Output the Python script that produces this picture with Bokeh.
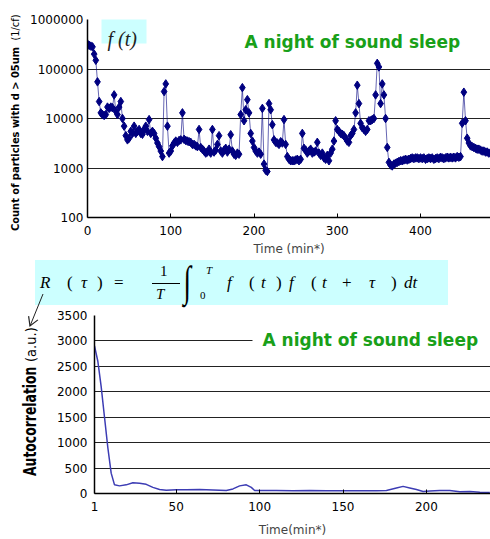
import math
from bokeh.plotting import figure
from bokeh.models import (Range1d, FixedTicker, PrintfTickFormatter, Label,
                          BoxAnnotation, Div)
from bokeh.embed import file_html
from bokeh.resources import INLINE

# ---------------- data ----------------
time_min = list(range(0, 486, 2))
particles = [
    320000, 300000, 290000, 280000, 200000, 150000, 55000, 22000, 13000, 12000,
    11500, 12000, 17000, 16000, 17000, 16500, 30000, 14000, 12000, 17000,
    22000, 10000, 7000, 4500, 3700, 4000, 5500, 5000, 7000, 5000,
    5500, 6000, 5000, 4800, 6000, 7000, 5500, 9500, 5000, 5500,
    5000, 4000, 3200, 2700, 2200, 1700, 35000, 50000, 7000, 2000,
    2200, 2800, 3200, 3500, 3300, 3600, 3700, 13000, 3800, 3600,
    3500, 3400, 3300, 3000, 3000, 2800, 2700, 6000, 2600, 2400,
    2200, 2000, 2100, 2400, 2000, 6000, 2100, 2300, 3000, 4500,
    2200, 2000, 2300, 2500, 2100, 2400, 4700, 2200, 1900, 1800,
    2000, 1900, 12000, 42000, 9000, 15000, 24000, 13000, 5000, 3500,
    2600, 2200, 2000, 2100, 1900, 16000, 1200, 900, 850, 20000,
    15000, 7500, 3700, 3300, 3200, 3000, 3400, 3200, 9500, 3000,
    1700, 1500, 1400, 1400, 1400, 1450, 1500, 1400, 1500, 5000,
    2500, 2300, 2000, 2200, 2400, 2000, 2100, 2200, 3300, 2000,
    1800, 2000, 1600, 1500, 1800, 1400, 2000, 2400, 3500, 9000,
    6000, 5500, 5000, 4800, 4500, 4000, 3500, 3300, 4500, 5000,
    6000, 13000, 47000, 20000, 8000, 6500, 6000, 5500, 6000, 9000,
    9000, 9500, 10000, 30000, 130000, 110000, 20000, 50000, 30000, 10000,
    2600, 1300, 1150, 1100, 1200, 1250, 1300, 1350, 1400, 1400,
    1450, 1500, 1450, 1500, 1550, 1600, 1550, 1600, 1600, 1550,
    1600, 1550, 1600, 1500, 1550, 1600, 1550, 1600, 1500, 1550,
    1600, 1550, 1650, 1600, 1550, 1600, 1650, 1600, 1650, 1600,
    1650, 1600, 1700, 1650, 1700, 8000, 34000, 9000, 4000, 3200,
    2800, 2700, 2600, 2500, 2400, 2400, 2300, 2200, 2200, 2100,
    2100, 2000, 2000,
]
top_yticks = [100, 1000, 10000, 100000, 1000000]
top_xticks = [0, 100, 200, 300, 400]

lag_min = [1, 3, 5, 7, 9, 11, 13, 16, 20, 24, 28, 32, 36, 40, 44, 50, 56, 64, 72,
           80, 84, 88, 92, 95, 97, 100, 110, 120, 130, 140, 150, 160, 170, 176,
           182, 186, 190, 194, 198, 202, 208, 214, 220, 226, 232, 238]
autocorr = [2900, 2600, 2100, 1500, 900, 400, 170, 150, 170, 210, 200, 180, 120,
            80, 65, 75, 75, 80, 70, 60, 90, 150, 170, 120, 60, 60, 60, 55, 60,
            55, 55, 55, 55, 60, 110, 140, 110, 80, 40, 50, 60, 60, 35, 40, 25, 20]
bot_yticks = [0, 500, 1000, 1500, 2000, 2500, 3000, 3500]
bot_xticks = [1, 50, 100, 150, 200]

title_text = "A night of sound sleep"
top_ylabel = ("Count of particles with d > 05um", "(1/cf)")
bot_ylabel = ("Autocorrelation", "(a.u.)")

GREEN = "#19a019"
CYAN = "#ccffff"
TICKFONT = "DejaVu Sans"
SERIF = "Liberation Serif"
NARROW = "'Liberation Sans Narrow', 'Arial Narrow', 'DejaVu Sans Condensed', sans-serif"


def style_axes(p, ystandoff):
    for ax in (p.xaxis, p.yaxis):
        ax.major_label_text_font = TICKFONT
        ax.major_label_text_font_size = "12px"
        ax.major_label_text_color = "black"
        ax.axis_line_color = "black"
        ax.axis_line_width = 1.5
        ax.minor_tick_line_color = None
        ax.major_tick_line_color = "black"
    p.yaxis.major_tick_in = 0
    p.yaxis.major_tick_out = 0
    p.yaxis.major_label_standoff = ystandoff
    p.xaxis.major_tick_in = 4
    p.xaxis.major_tick_out = 0
    p.xaxis.major_label_standoff = 8
    p.xaxis.axis_label_text_font = TICKFONT
    p.xaxis.axis_label_text_font_style = "normal"
    p.xaxis.axis_label_text_font_size = "12px"


def clabel(p, cx, cy, text, **kw):
    p.add_layout(Label(x=cx, y=cy, x_units="canvas", y_units="canvas", text=text, **kw))


def cbox(p, l, r, t, b, color, oy=0):
    p.add_layout(BoxAnnotation(left=l, right=r, top=t - oy, bottom=b - oy,
                               left_units="canvas", right_units="canvas",
                               top_units="canvas", bottom_units="canvas",
                               fill_color=color, fill_alpha=1.0, line_color=None))


# ---------------- top chart ----------------
p1 = figure(width=490, height=258, x_range=Range1d(0, 484),
            y_range=Range1d(100, 1e6), y_axis_type="log",
            output_backend="svg", toolbar_location=None,
            min_border_left=87, min_border_right=0, min_border_top=19,
            min_border_bottom=0)
p1.outline_line_color = None
p1.xgrid.grid_line_color = None
p1.ygrid.grid_line_color = "#222222"
p1.ygrid.ticker = FixedTicker(ticks=top_yticks)
p1.yaxis.ticker = FixedTicker(ticks=top_yticks)
p1.yaxis.formatter = PrintfTickFormatter(format="%d")
p1.xaxis.ticker = FixedTicker(ticks=top_xticks)
style_axes(p1, 4)
p1.xaxis.axis_label = "Time (min*)"
p1.xaxis.axis_label_standoff = 4

p1.line(time_min, particles, line_color="#000080", line_alpha=0.6, line_width=1)
p1.scatter(time_min, particles, marker="diamond", size=8.5,
           fill_color="#000080", line_color="#000080")

cbox(p1, 101, 146, 18, 43, CYAN)
clabel(p1, 107, 38, "f (t)", text_font=SERIF, text_font_style="italic",
       text_font_size="20px", text_baseline="alphabetic", text_color="#222222")
clabel(p1, 244, 41, title_text, text_font="DejaVu Sans",
       text_font_style="bold", text_font_size="17px", text_color=GREEN,
       text_baseline="middle")

# ---------------- bottom chart ----------------
OY = 258
p2 = figure(width=490, height=281, x_range=Range1d(1, 238.4),
            y_range=Range1d(0, 3500), output_backend="svg", toolbar_location=None,
            min_border_left=94, min_border_right=0, min_border_top=57,
            min_border_bottom=0)
p2.outline_line_color = None
p2.xgrid.grid_line_color = None
p2.ygrid.grid_line_color = "#222222"
p2.ygrid.ticker = FixedTicker(ticks=bot_yticks)
p2.yaxis.ticker = FixedTicker(ticks=bot_yticks)
p2.xaxis.ticker = FixedTicker(ticks=bot_xticks)
style_axes(p2, 7)
p2.xaxis.axis_label = "Time(min*)"
p2.xaxis.axis_label_standoff = 9

p2.line(lag_min, autocorr, line_color="#3c3cb4", line_width=1.5)

cbox(p2, 252, 490, 330, 349, "white", OY)
clabel(p2, 262, 339 - OY, title_text, text_font="DejaVu Sans",
       text_font_style="bold", text_font_size="17px", text_color=GREEN,
       text_baseline="middle")


# ---------------- overlay pieces (absolute-positioned HTML) ----------------
def abs_div(html, left, top, width, height):
    css = (":host { position: absolute !important; left: %dpx !important; "
           "top: %dpx !important; margin: 0 !important; padding: 0 !important; "
           "z-index: 10; overflow: visible !important; }" % (left, top))
    return Div(text=html, width=width, height=height, margin=0,
               styles={"position": "absolute", "left": "%dpx" % left,
                       "top": "%dpx" % top, "z-index": "10", "overflow": "visible",
                       "margin": "0", "padding": "0"},
               stylesheets=[css])


# formula: tokens (text, page-x, baseline, size, italic)
BOX_L, BOX_T, BOX_W, BOX_H = 35, 260, 413, 45
tokens = [
    ("R", 40, 288, 17, True), ("(", 67, 288, 17, False), ("τ", 81, 288, 17, True),
    (")", 97, 288, 17, False), ("=", 114, 288, 17, False),
    ("1", 160, 277, 15, False), ("T", 156, 300, 15, True),
    ("T", 206, 274, 11, True), ("0", 200, 299, 11, False),
    ("f", 227, 288, 17, True), ("(", 249, 288, 17, False), ("t", 261, 288, 17, True),
    (")", 276, 288, 17, False), ("f", 289, 288, 17, True), ("(", 311, 288, 17, False),
    ("t", 322, 288, 17, True), ("+", 342, 288, 17, False), ("τ", 369, 288, 17, True),
    (")", 391, 288, 17, False), ("dt", 404, 288, 17, True),
]
spans = []
for txt, x, base, size, ital in tokens:
    top = base - 0.8375 * size - BOX_T
    spans.append(
        '<span style="position:absolute;left:%.1fpx;top:%.1fpx;font-size:%dpx;'
        'line-height:1;font-style:%s;white-space:nowrap;">%s</span>'
        % (x - BOX_L, top, size, "italic" if ital else "normal", txt))
spans.append('<span style="position:absolute;left:%dpx;top:%.1fpx;font-size:24px;'
             'line-height:1;height:24px;transform:scale(1.15,1.8);'
             'transform-origin:50%% 50%%;">∫</span>' % (184 - BOX_L, 270.2 - BOX_T))
spans.append('<span style="position:absolute;left:%dpx;top:%.1fpx;width:28px;'
             'height:1px;background:black;"></span>' % (152 - BOX_L, 282.5 - BOX_T))
formula_html = ('<div style="position:relative;width:%dpx;height:%dpx;background:%s;'
                'font-family:\'Liberation Serif\',serif;color:black;">%s</div>'
                % (BOX_W, BOX_H, CYAN, "".join(spans)))
formula_div = abs_div(formula_html, BOX_L, BOX_T, BOX_W, BOX_H)

# arrow from R to the y-axis title
A_L, A_T = 0, 280
sx, sy, ex, ey = 43, 294, 30, 326
dx, dy = ex - sx, ey - sy
n = math.hypot(dx, dy)
bxu, byu = -dx / n, -dy / n
heads = []
for ang in (math.radians(30), math.radians(-30)):
    c, s = math.cos(ang), math.sin(ang)
    hx = bxu * c - byu * s
    hy = bxu * s + byu * c
    heads.append((ex + 10 * hx, ey + 10 * hy))
arrow_svg = ('<svg width="60" height="60" style="overflow:visible;display:block;">'
             '<line x1="%.1f" y1="%.1f" x2="%.1f" y2="%.1f" stroke="#222" stroke-width="1"/>'
             '<polyline points="%.1f,%.1f %.1f,%.1f %.1f,%.1f" fill="none" stroke="#222" '
             'stroke-width="1.2"/></svg>'
             % (sx - A_L, sy - A_T, ex - A_L, ey - A_T,
                heads[0][0] - A_L, heads[0][1] - A_T, ex - A_L, ey - A_T,
                heads[1][0] - A_L, heads[1][1] - A_T))
arrow_div = abs_div(arrow_svg, A_L, A_T, 60, 60)


def vtext(text, cx, start_y, size, lh, bold, squeeze=1.0):
    html = ('<div style="position:absolute;left:0;top:0;transform-origin:0 0;'
            'transform:rotate(-90deg) scaleX(%.3f);white-space:nowrap;line-height:%dpx;'
            'font-family:%s;color:black;font-size:%spx;font-weight:%s;">%s</div>'
            % (squeeze, lh, NARROW, size, "bold" if bold else "normal",
               text.replace(">", "&gt;")))
    return abs_div(html, int(round(cx - lh / 2)), start_y, 20, 20)


def vtitle(bold, light, cx, start_y, bsize, lsize, lh):
    html = ('<div style="position:absolute;left:0;top:0;transform-origin:0 0;'
            'transform:rotate(-90deg);white-space:nowrap;line-height:%dpx;'
            'font-family:%s;color:black;">'
            '<span style="font-weight:bold;font-size:%spx;">%s</span>'
            '<span style="font-size:%spx;">&nbsp;&nbsp;%s</span></div>'
            % (lh, NARROW, bsize, bold.replace(">", "&gt;"), lsize, light))
    return abs_div(html, int(round(cx - lh / 2)), start_y, 20, 20)


ytitles = [
    vtitle(top_ylabel[0], top_ylabel[1], 15, 231, 11, 11, 14),
    vtext(bot_ylabel[0], 30, 476, 17, 18, True, 0.81),
    vtext(bot_ylabel[1], 31, 362, 14.5, 16, False),
]

open("out.html", "w").write(file_html([p1, p2, formula_div, arrow_div] + ytitles, INLINE))
